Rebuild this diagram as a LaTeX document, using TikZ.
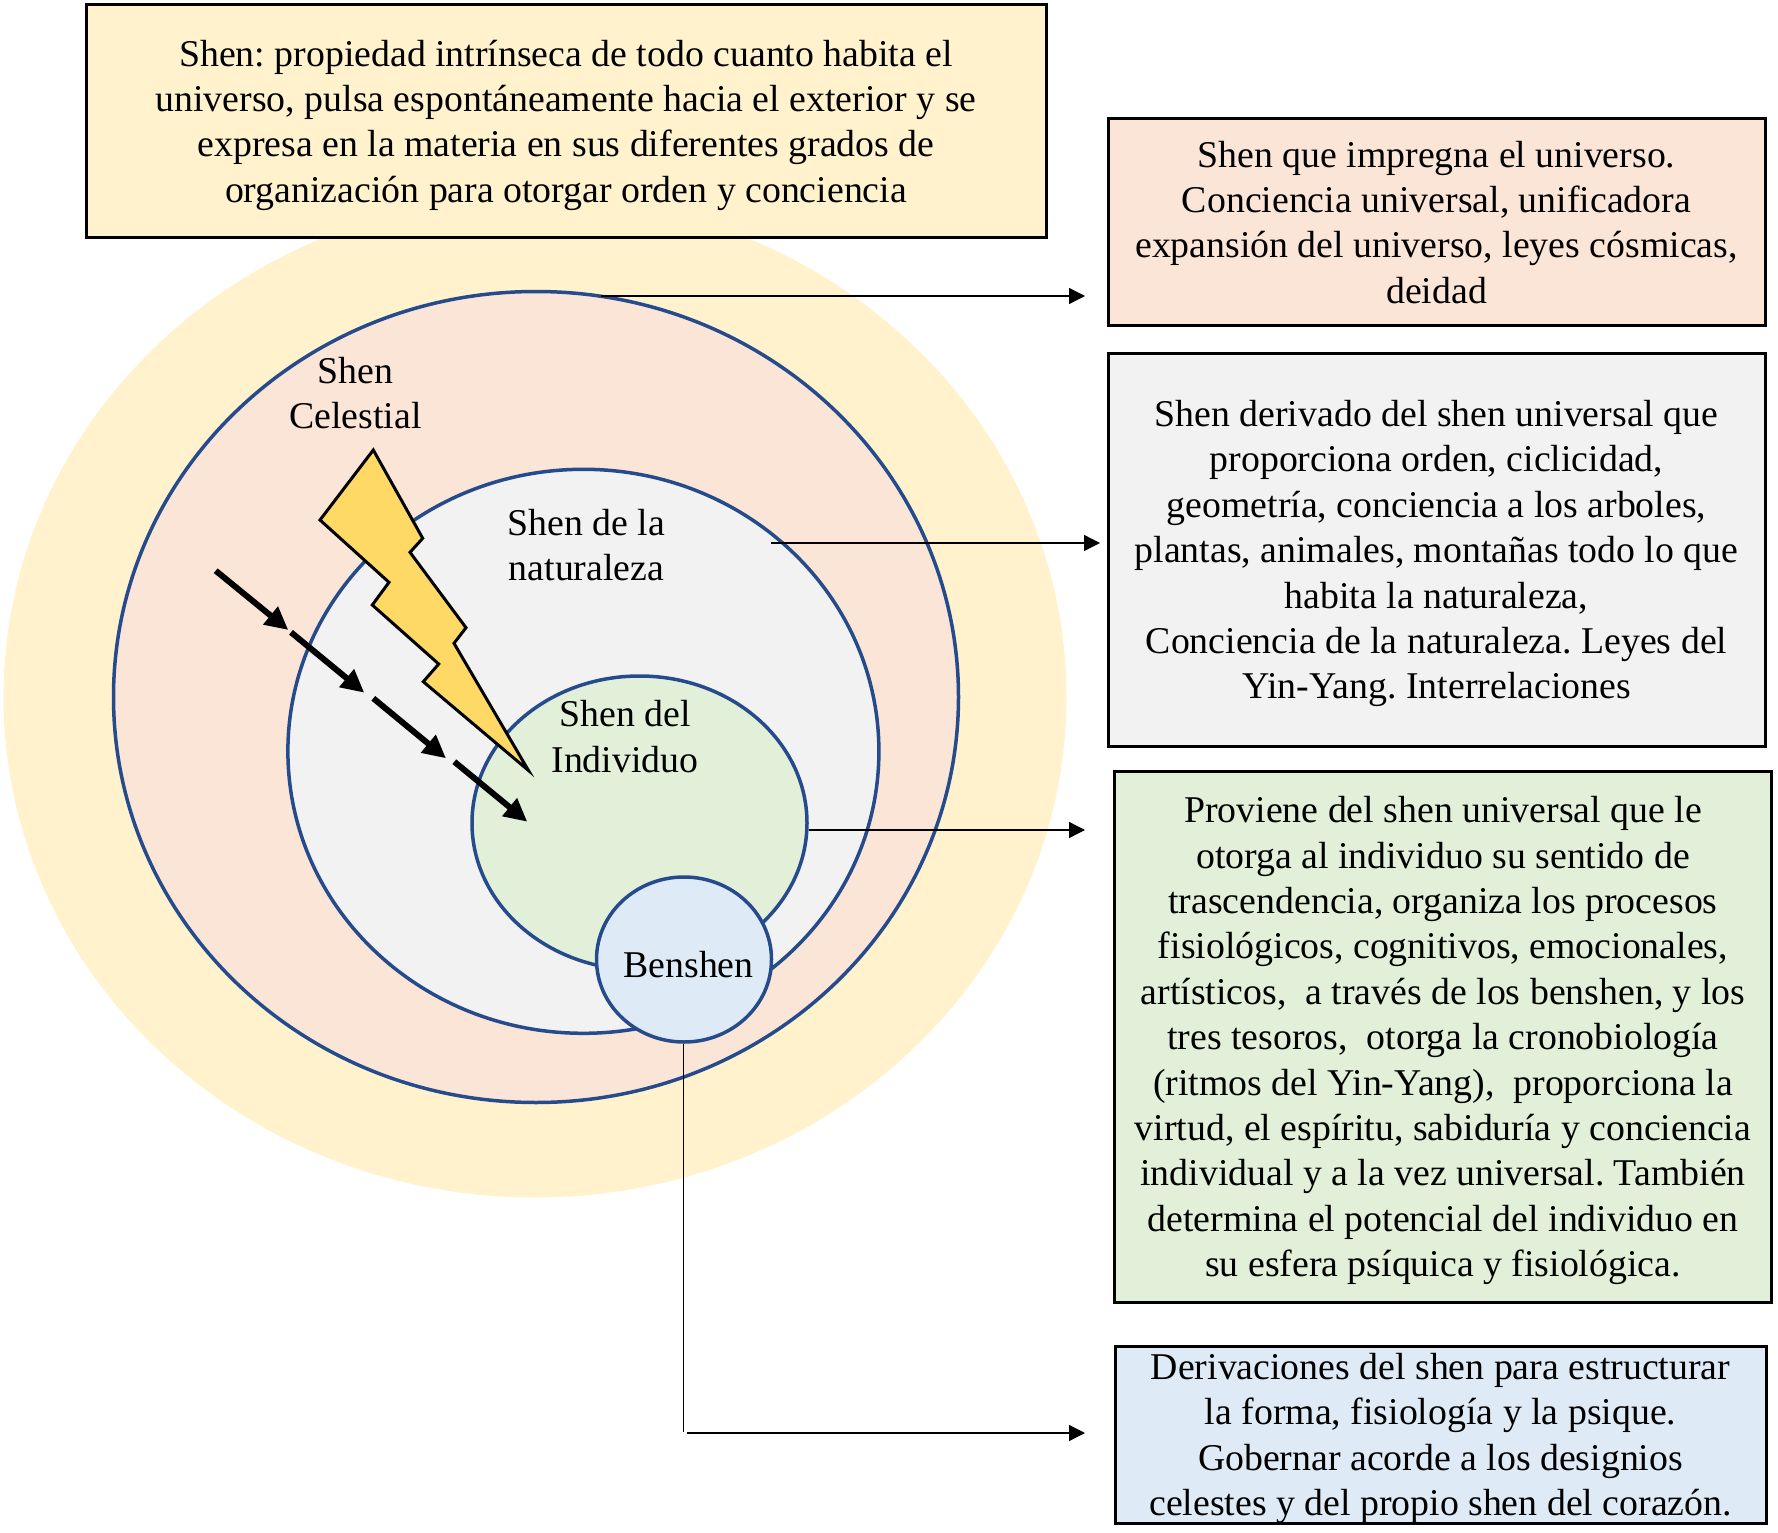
\documentclass[tikz,border=0pt]{standalone}
\usepackage{fontspec}
\setmainfont{Liberation Serif}
\usetikzlibrary{arrows.meta,shapes.geometric}
\definecolor{shenyellow}{HTML}{FFF2CC}
\definecolor{shenpink}{HTML}{FBE5D6}
\definecolor{shengray}{HTML}{F2F2F2}
\definecolor{shengreen}{HTML}{E2F0D9}
\definecolor{shenblue}{HTML}{DEEBF7}
\definecolor{shenline}{HTML}{264B8C}
\definecolor{bolt}{HTML}{FFD966}
\tikzset{
  txtbox/.style={draw=black,line width=3pt,align=center,inner sep=0pt,text depth=-3.5pt,font=\fontsize{37.8}{45.4}\selectfont\frenchspacing},
  orbit/.style={ellipse,draw=shenline,line width=3.5pt,inner sep=0pt},
  lbl/.style={align=center,inner sep=0pt,font=\fontsize{37.8}{45.4}\selectfont\frenchspacing},
  pointer/.style={-{Triangle[length=16pt,width=16pt]},line width=1.3pt},
  ray/.style={-{Triangle[length=23pt,width=22pt]},line width=6pt}
}
\begin{document}
\begin{tikzpicture}[x=1pt,y=-1pt,>=Stealth,line join=miter]
\useasboundingbox (0,0) rectangle (1778,1533);
% --- nested spheres
\node[ellipse,fill=shenyellow,inner sep=0pt,minimum width=1063pt,minimum height=1001pt] (universo) at (535,697) {};
\node[orbit,fill=shenpink,minimum width=845pt,minimum height=811pt] (celeste) at (536,697) {};
\node[orbit,fill=shengray,minimum width=591pt,minimum height=564pt] (natura) at (583.4,751.3) {};
\node[orbit,fill=shengreen,minimum width=335pt,minimum height=294pt] (indiv) at (639.5,823) {};
% --- lightning bolt
\draw[fill=bolt,line width=3pt] (373.3,450) -- (422.7,538.3) -- (410,552.3) -- (466,627.7) -- (454,643.3) -- (528.5,770.5) -- (423.3,681.7) -- (438.7,664) -- (372.3,605) -- (389,582.3) -- (320,520) -- cycle;
% --- stepped black arrow
\coordinate (r1) at (215.7,570.7); \coordinate (r2) at (288.3,630);
\coordinate (r3) at (291,632.3);   \coordinate (r4) at (364.3,692.7);
\coordinate (r5) at (373.3,698.3); \coordinate (r6) at (446,758.3);
\coordinate (r7) at (454.3,761.7); \coordinate (r8) at (527.3,821.7);
\foreach \a/\b in {r1/r2,r3/r4,r5/r6,r7/r8}
  \draw[ray] (\a) -- (\b);
\node[orbit,fill=shenblue,minimum width=175pt,minimum height=165pt] (benshen) at (684,959.5) {};
% --- labels inside the spheres
\node[lbl] (lcel) at (355.5,393) {Shen\\Celestial};
\node[lbl] (lnat) at (586.5,545) {Shen de la\\naturaleza};
\node[lbl] (lind) at (625,736.5) {Shen del\\Individuo};
\node[lbl] (lben) at (688.5,965) {Benshen};
% --- text boxes
\node[txtbox,fill=shenyellow,minimum width=960pt,minimum height=233pt] (bshen) at (566,121) {Shen: propiedad intrínseca de todo cuanto habita el\\universo, pulsa espontáneamente hacia el exterior y se\\expresa en la materia en sus diferentes grados de\\organización para otorgar orden y conciencia};
\node[txtbox,fill=shenpink,minimum width=657pt,minimum height=207pt] (bcel) at (1436.5,222) {Shen que impregna el universo.\\Conciencia universal, unificadora\\expansión del universo, leyes cósmicas,\\deidad};
\node[txtbox,fill=shengray,minimum width=657pt,minimum height=393pt] (bnat) at (1436.5,549.5) {Shen derivado del shen universal que\\proporciona orden, ciclicidad,\\geometría, conciencia a los arboles,\\plantas, animales, montañas todo lo que\\habita la naturaleza,\\Conciencia de la naturaleza. Leyes del\\Yin-Yang. Interrelaciones};
\node[txtbox,fill=shengreen,minimum width=657pt,minimum height=531pt] (bind) at (1443,1036.5) {Proviene del shen universal que le\\otorga al individuo su sentido de\\trascendencia, organiza los procesos\\fisiológicos, cognitivos, emocionales,\\artísticos,~ a través de los benshen, y los\\tres tesoros,~ otorga la cronobiología\\(ritmos del Yin-Yang),~ proporciona la\\virtud, el espíritu, sabiduría y conciencia\\individual y a la vez universal. También\\determina el potencial del individuo en\\su esfera psíquica y fisiológica.};
\node[txtbox,fill=shenblue,minimum width=651pt,minimum height=177pt] (bben) at (1440.5,1434.5) {Derivaciones del shen para estructurar\\la forma, fisiología y la psique.\\Gobernar acorde a los designios\\celestes y del propio shen del corazón.};
% --- pointers
\coordinate (p1) at (601,296);  \coordinate (q1) at (1085,296);
\coordinate (p2) at (771,543);  \coordinate (q2) at (1100,543);
\coordinate (q3) at (1085,830);
\coordinate (p3) at ([xshift=-.5pt]benshen.south);
\coordinate (p4) at (p3 |- 0,1432); \coordinate (p5) at (687,1433); \coordinate (q4) at (1085,1433);
\draw[pointer] (p1) -- (q1);
\draw[pointer] (p2) -- (q2);
\draw[pointer] (indiv.east |- q3) -- (q3);
\draw[line width=1.3pt] (p3) -- (p4);
\draw[pointer] (p5) -- (q4);
\end{tikzpicture}
\end{document}
